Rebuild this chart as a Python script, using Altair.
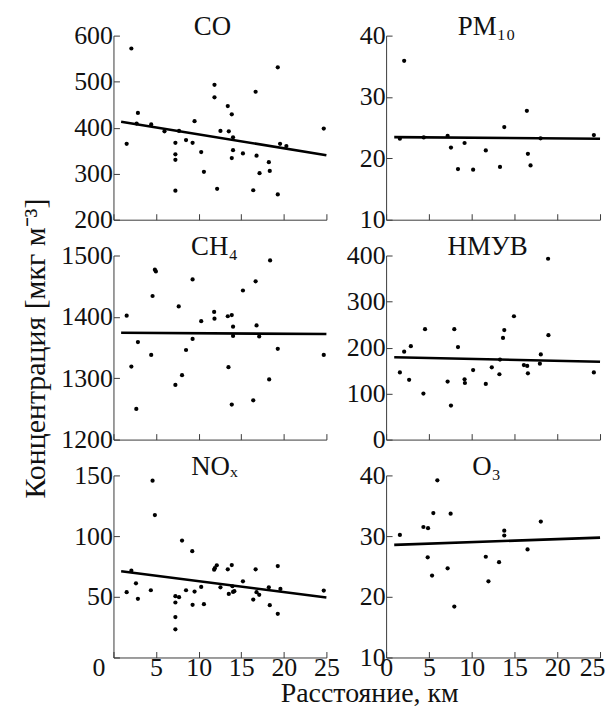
import altair as alt
import pandas as pd

FONT = "Liberation Serif"

# ---- data ----
co_x = [1.55, 2.1, 2.72, 2.87, 4.43, 5.99, 7.27, 7.27, 7.27, 7.27, 7.7, 8.52, 9.29, 9.52, 10.3, 10.62,
        11.86, 11.86, 12.17, 12.56, 13.42, 13.54, 13.89, 14.04, 14.04, 13.89, 15.2, 16.41, 16.69, 16.8,
        17.15, 18.24, 18.35, 19.29, 19.29, 19.56, 20.3, 24.69]
co_y = [365, 572, 409, 432, 407, 392, 367, 342, 330, 263, 393, 373, 367, 414, 347, 304,
        493, 466, 267, 393, 447, 392, 429, 379, 351, 334, 344, 264, 478, 339,
        301, 325, 306, 531, 255, 365, 360, 398]
co_line_x = [0.9, 25]
co_line_y = [413, 340]

pm_x = [1.61, 2.11, 4.4, 7.19, 7.58, 8.4, 9.17, 10.17, 11.65, 13.31, 13.81, 16.45, 16.57, 16.88, 18.05, 24.28]
pm_y = [23.2, 35.9, 23.4, 23.66, 21.76, 18.25, 22.5, 18.15, 21.28, 18.6, 25.1, 27.75, 20.74, 18.85, 23.27, 23.8]
pm_line_x = [0.95, 25]
pm_line_y = [23.45, 23.2]

ch4_x = [1.55, 2.1, 2.68, 2.87, 4.43, 4.59, 4.86, 4.98, 7.27, 7.66, 8.05, 8.52, 9.29, 9.29, 10.3, 11.82,
         11.86, 13.42, 13.89, 13.5, 14.04, 14.04, 13.89, 15.2, 16.41, 16.69, 16.8, 17.11, 18.28, 18.39,
         19.29, 24.69]
ch4_y = [1402, 1319, 1250, 1359, 1338, 1434, 1477, 1474, 1289, 1417, 1305, 1346, 1364, 1461, 1393, 1408,
         1397, 1401, 1403, 1318, 1384, 1369, 1257, 1443, 1264, 1458, 1386, 1368, 1298, 1492,
         1348, 1338]
ch4_line_x = [0.9, 25]
ch4_line_y = [1374, 1372]

nm_x = [1.61, 2.11, 2.69, 2.89, 4.36, 4.55, 7.19, 7.58, 7.97, 8.4, 9.17, 9.21, 10.17, 11.65, 12.35, 13.24,
        13.31, 13.66, 13.81, 14.94, 16.1, 16.49, 16.57, 17.97, 18.08, 18.93, 18.97, 24.28]
nm_y = [146, 191, 130, 203, 100, 240, 126, 74, 240, 201, 131, 123, 151, 121, 157, 142,
        174, 221, 238, 268, 162, 160, 144, 165, 185, 393, 227, 146]
nm_line_x = [0.95, 25]
nm_line_y = [179, 169]

no_x = [1.55, 2.1, 2.64, 2.87, 4.39, 4.59, 4.86, 7.27, 7.27, 7.27, 7.27, 7.7, 8.05, 8.52, 9.25, 9.29,
        9.52, 10.3, 10.62, 11.82, 11.9, 12.13, 12.56, 13.42, 13.54, 13.89, 13.97, 14.04, 14.19, 15.2,
        16.41, 16.69, 16.8, 17.11, 18.24, 18.35, 19.29, 19.29, 19.6, 24.69]
no_y = [53.8, 71.5, 61.1, 48.3, 55.4, 145.7, 117.3, 50.5, 45.3, 33.3, 23.2, 49.7, 96.3, 55.4, 87.6, 43.4,
        54.3, 58.1, 43.9, 72.3, 73.6, 75.9, 57.8, 72.6, 52.4, 76.1, 58.7, 54.0, 54.6, 62.8,
        47.7, 72.6, 53.8, 51.6, 57.8, 43.1, 75.3, 36.0, 56.5, 55.1]
no_line_x = [0.9, 25]
no_line_y = [71, 49.5]

o3_x = [1.61, 4.36, 4.9, 4.86, 5.37, 5.52, 5.99, 7.19, 7.54, 7.97, 11.65, 11.96, 13.2, 13.81, 13.81, 16.53, 18.08]
o3_y = [30.2, 31.5, 31.3, 26.5, 23.5, 33.8, 39.2, 24.7, 33.7, 18.4, 26.6, 22.55, 25.7, 30.9, 30.1, 27.8, 32.4]
o3_line_x = [0.95, 25]
o3_line_y = [28.55, 29.75]

x_ticks = [0, 5, 10, 15, 20, 25]
y_title = "Концентрация [мкг м⁻³]"
x_title = "Расстояние, км"

AX = dict(grid=False, domainColor="#3a3a3a", domainWidth=1, tickColor="#3a3a3a", tickWidth=1,
          tickSize={"expr": "-6"}, labelFont=FONT, labelFontSize=26, labelColor="#111111",
          labelFlush=False, labelOverlap=False, labelBound=False, format="d",
          titleFont=FONT, titleFontWeight="normal", titleColor="#111111")


def panel(xs, ys, lx, ly, title, ydom, yvals, w, h, xlabels, ylabvals=None, xextra=None, yextra=None, tdx=0):
    pts = pd.DataFrame({"x": xs, "y": ys})
    ln = pd.DataFrame({"x": lx, "y": ly})
    xa = dict(AX, values=x_ticks, labels=xlabels, title=None, labelPadding=3)
    if xextra:
        xa.update(xextra)
    ya = dict(AX, values=yvals, title=None, labelPadding=7)
    if ylabvals is not None:
        ya["labelExpr"] = "indexof(%s, datum.value) >= 0 ? datum.label : ''" % str(ylabvals)
    if yextra:
        ya.update(yextra)
    xs_ = alt.Scale(domain=[0, 25], nice=False, zero=False)
    ys_ = alt.Scale(domain=ydom, nice=False, zero=False)
    Y = alt.Y("y:Q", scale=ys_, axis=alt.Axis(**ya))
    p = alt.Chart(pts).mark_circle(size=18, color="black", opacity=1).encode(
        x=alt.X("x:Q", scale=xs_, axis=alt.Axis(**xa)), y=Y)
    l = alt.Chart(ln).mark_line(color="black", strokeWidth=2.6).encode(
        x=alt.X("x:Q", scale=xs_, axis=None), y=Y)
    # panel title carried by a top axis with no ticks / labels
    t = alt.Chart(ln).mark_point(opacity=0).encode(
        x=alt.X("x:Q", scale=xs_, axis=alt.Axis(
            orient="top", title=title, domain=False, ticks=False, labels=False, grid=False,
            titleFont=FONT, titleFontSize=27, titleFontWeight="normal", titleColor="#111111",
            titleX=w / 2 + tdx, titleY=-1, titleAlign="center", titleBaseline="alphabetic")),
        y=Y)
    return alt.layer(p, l, t).resolve_axis(x="independent").properties(width=w, height=h)


W1, W2 = 214, 215
c1 = panel(co_x, co_y, co_line_x, co_line_y, "CO", [200, 600], [200, 300, 400, 500, 600], W1, 185, False, tdx=-8)
c2 = panel(pm_x, pm_y, pm_line_x, pm_line_y, "PM₁₀", [10, 40], [10, 20, 30, 40], W2, 185, False, tdx=-7)
c3 = panel(ch4_x, ch4_y, ch4_line_x, ch4_line_y, "CH₄", [1200, 1500], [1200, 1300, 1400, 1500], W1, 185, False,
           yextra=dict(title=y_title, titleX=-69, titleY=93, titleAngle=270, titleAlign="center",
                       titleBaseline="alphabetic", titleFontSize=30), tdx=-6)
c4 = panel(nm_x, nm_y, nm_line_x, nm_line_y, "НМУВ", [0, 400], [0, 100, 200, 300, 400], W2, 185, False, tdx=-6)
c5 = panel(no_x, no_y, no_line_x, no_line_y, "NOₓ", [0, 150], [0, 50, 100, 150], W1, 183, True,
           ylabvals=[50, 100, 150],
           xextra=dict(title=x_title, titleX=257, titleY=44, titleAlign="center", titleBaseline="alphabetic",
                       titleFontSize=28,
                       labelOffset={"condition": {"test": "datum.value === 0", "value": -15}, "value": 0}),
           tdx=-6)
c6 = panel(o3_x, o3_y, o3_line_x, o3_line_y, "O₃", [10, 40], [10, 20, 30, 40], W2, 183, True, tdx=-7,
           xextra=dict(labelOffset={"condition": {"test": "datum.value === 25", "value": -8}, "value": 0}))

chart = alt.concat(c1, c2, c3, c4, c5, c6, columns=2, spacing={"row": 36, "column": 60}, bounds="flush")
chart = chart.configure_view(stroke=None).configure_axis(labelFont=FONT, titleFont=FONT).properties(
    background="white", padding={"left": 12, "top": 3, "right": 0, "bottom": 0})

chart.save("out.html", embed_options={"renderer": "svg", "actions": False})
